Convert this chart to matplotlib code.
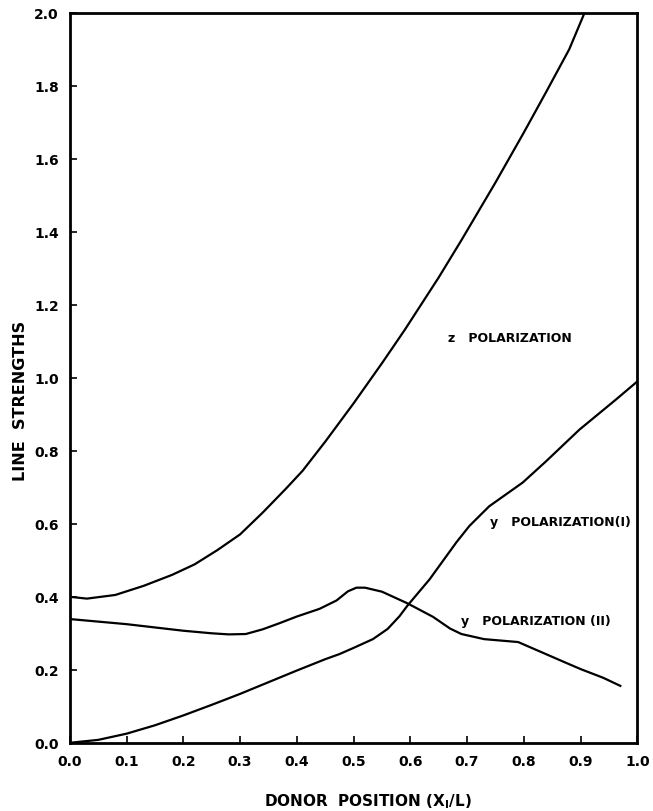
import matplotlib.pyplot as plt

# z polarization
z_x = [0.00, 0.03, 0.08, 0.13, 0.18, 0.22, 0.26, 0.30, 0.34, 0.38, 0.41, 0.45,
       0.50, 0.55, 0.59, 0.65, 0.69, 0.75, 0.80, 0.84, 0.88, 0.907]
z_y = [0.400, 0.395, 0.405, 0.430, 0.460, 0.489, 0.528, 0.571, 0.631, 0.695, 0.745, 0.825,
       0.930, 1.040, 1.131, 1.275, 1.377, 1.535, 1.672, 1.785, 1.900, 2.000]

# y polarization (I)
y1_x = [0.00, 0.05, 0.10, 0.15, 0.20, 0.25, 0.30, 0.35, 0.40, 0.45, 0.475, 0.50,
        0.534, 0.56, 0.581, 0.595, 0.634, 0.681, 0.704, 0.739, 0.798, 0.839,
        0.898, 0.962, 1.00]
y1_y = [0.000, 0.008, 0.025, 0.048, 0.075, 0.104, 0.134, 0.166, 0.198, 0.229, 0.243, 0.260,
        0.284, 0.312, 0.347, 0.376, 0.448, 0.549, 0.594, 0.648, 0.713, 0.771,
        0.858, 0.940, 0.990]

# y polarization (II)
y2_x = [0.00, 0.05, 0.10, 0.15, 0.20, 0.25, 0.28, 0.31, 0.34, 0.37, 0.40, 0.44,
        0.47, 0.49, 0.505, 0.52, 0.55, 0.595, 0.64, 0.67, 0.69, 0.73, 0.79,
        0.83, 0.87, 0.90, 0.94, 0.97]
y2_y = [0.339, 0.332, 0.325, 0.316, 0.307, 0.300, 0.297, 0.298, 0.311, 0.328, 0.346, 0.367,
        0.390, 0.415, 0.425, 0.425, 0.414, 0.382, 0.345, 0.313, 0.298, 0.284, 0.276,
        0.249, 0.222, 0.202, 0.178, 0.156]

x_ticks = [0.0, 0.1, 0.2, 0.3, 0.4, 0.5, 0.6, 0.7, 0.8, 0.9, 1.0]
y_ticks = [0.0, 0.2, 0.4, 0.6, 0.8, 1.0, 1.2, 1.4, 1.6, 1.8, 2.0]

plt.rcParams['font.family'] = 'DejaVu Sans'
plt.rcParams['font.weight'] = 'bold'

fig = plt.figure(figsize=(6.53, 8.12), dpi=100)
ax = fig.add_axes([0.107, 0.084, 0.869, 0.899])

for xs, ys in [(z_x, z_y), (y1_x, y1_y), (y2_x, y2_y)]:
    ax.plot(xs, ys, color='black', linewidth=1.6, solid_joinstyle='round')

ax.set_xlim(0, 1.0)
ax.set_ylim(0, 2.0)
ax.set_xticks(x_ticks)
ax.set_xticklabels(['%.1f' % v for v in x_ticks])
ax.set_yticks(y_ticks)
ax.set_yticklabels(['%.1f' % v for v in y_ticks])
ax.tick_params(direction='in', length=5, width=1.2, labelsize=10, pad=8)
for s in ax.spines.values():
    s.set_linewidth(2)

ax.text(0.667, 1.11, 'z   POLARIZATION', fontsize=9, fontweight='bold', va='center')
ax.text(0.741, 0.607, 'y   POLARIZATION(I)', fontsize=9, fontweight='bold', va='center')
ax.text(0.690, 0.336, 'y   POLARIZATION (II)', fontsize=9, fontweight='bold', va='center')

ax.set_ylabel('LINE  STRENGTHS', fontsize=11.5, fontweight='bold')
ax.yaxis.set_label_coords(-0.074, 0.47)
ax.set_xlabel('DONOR  POSITION (X$_\\mathbf{I}$/L)', fontsize=11, fontweight='bold')
ax.xaxis.set_label_coords(0.525, -0.067)

fig.savefig('out.png', dpi=100)
